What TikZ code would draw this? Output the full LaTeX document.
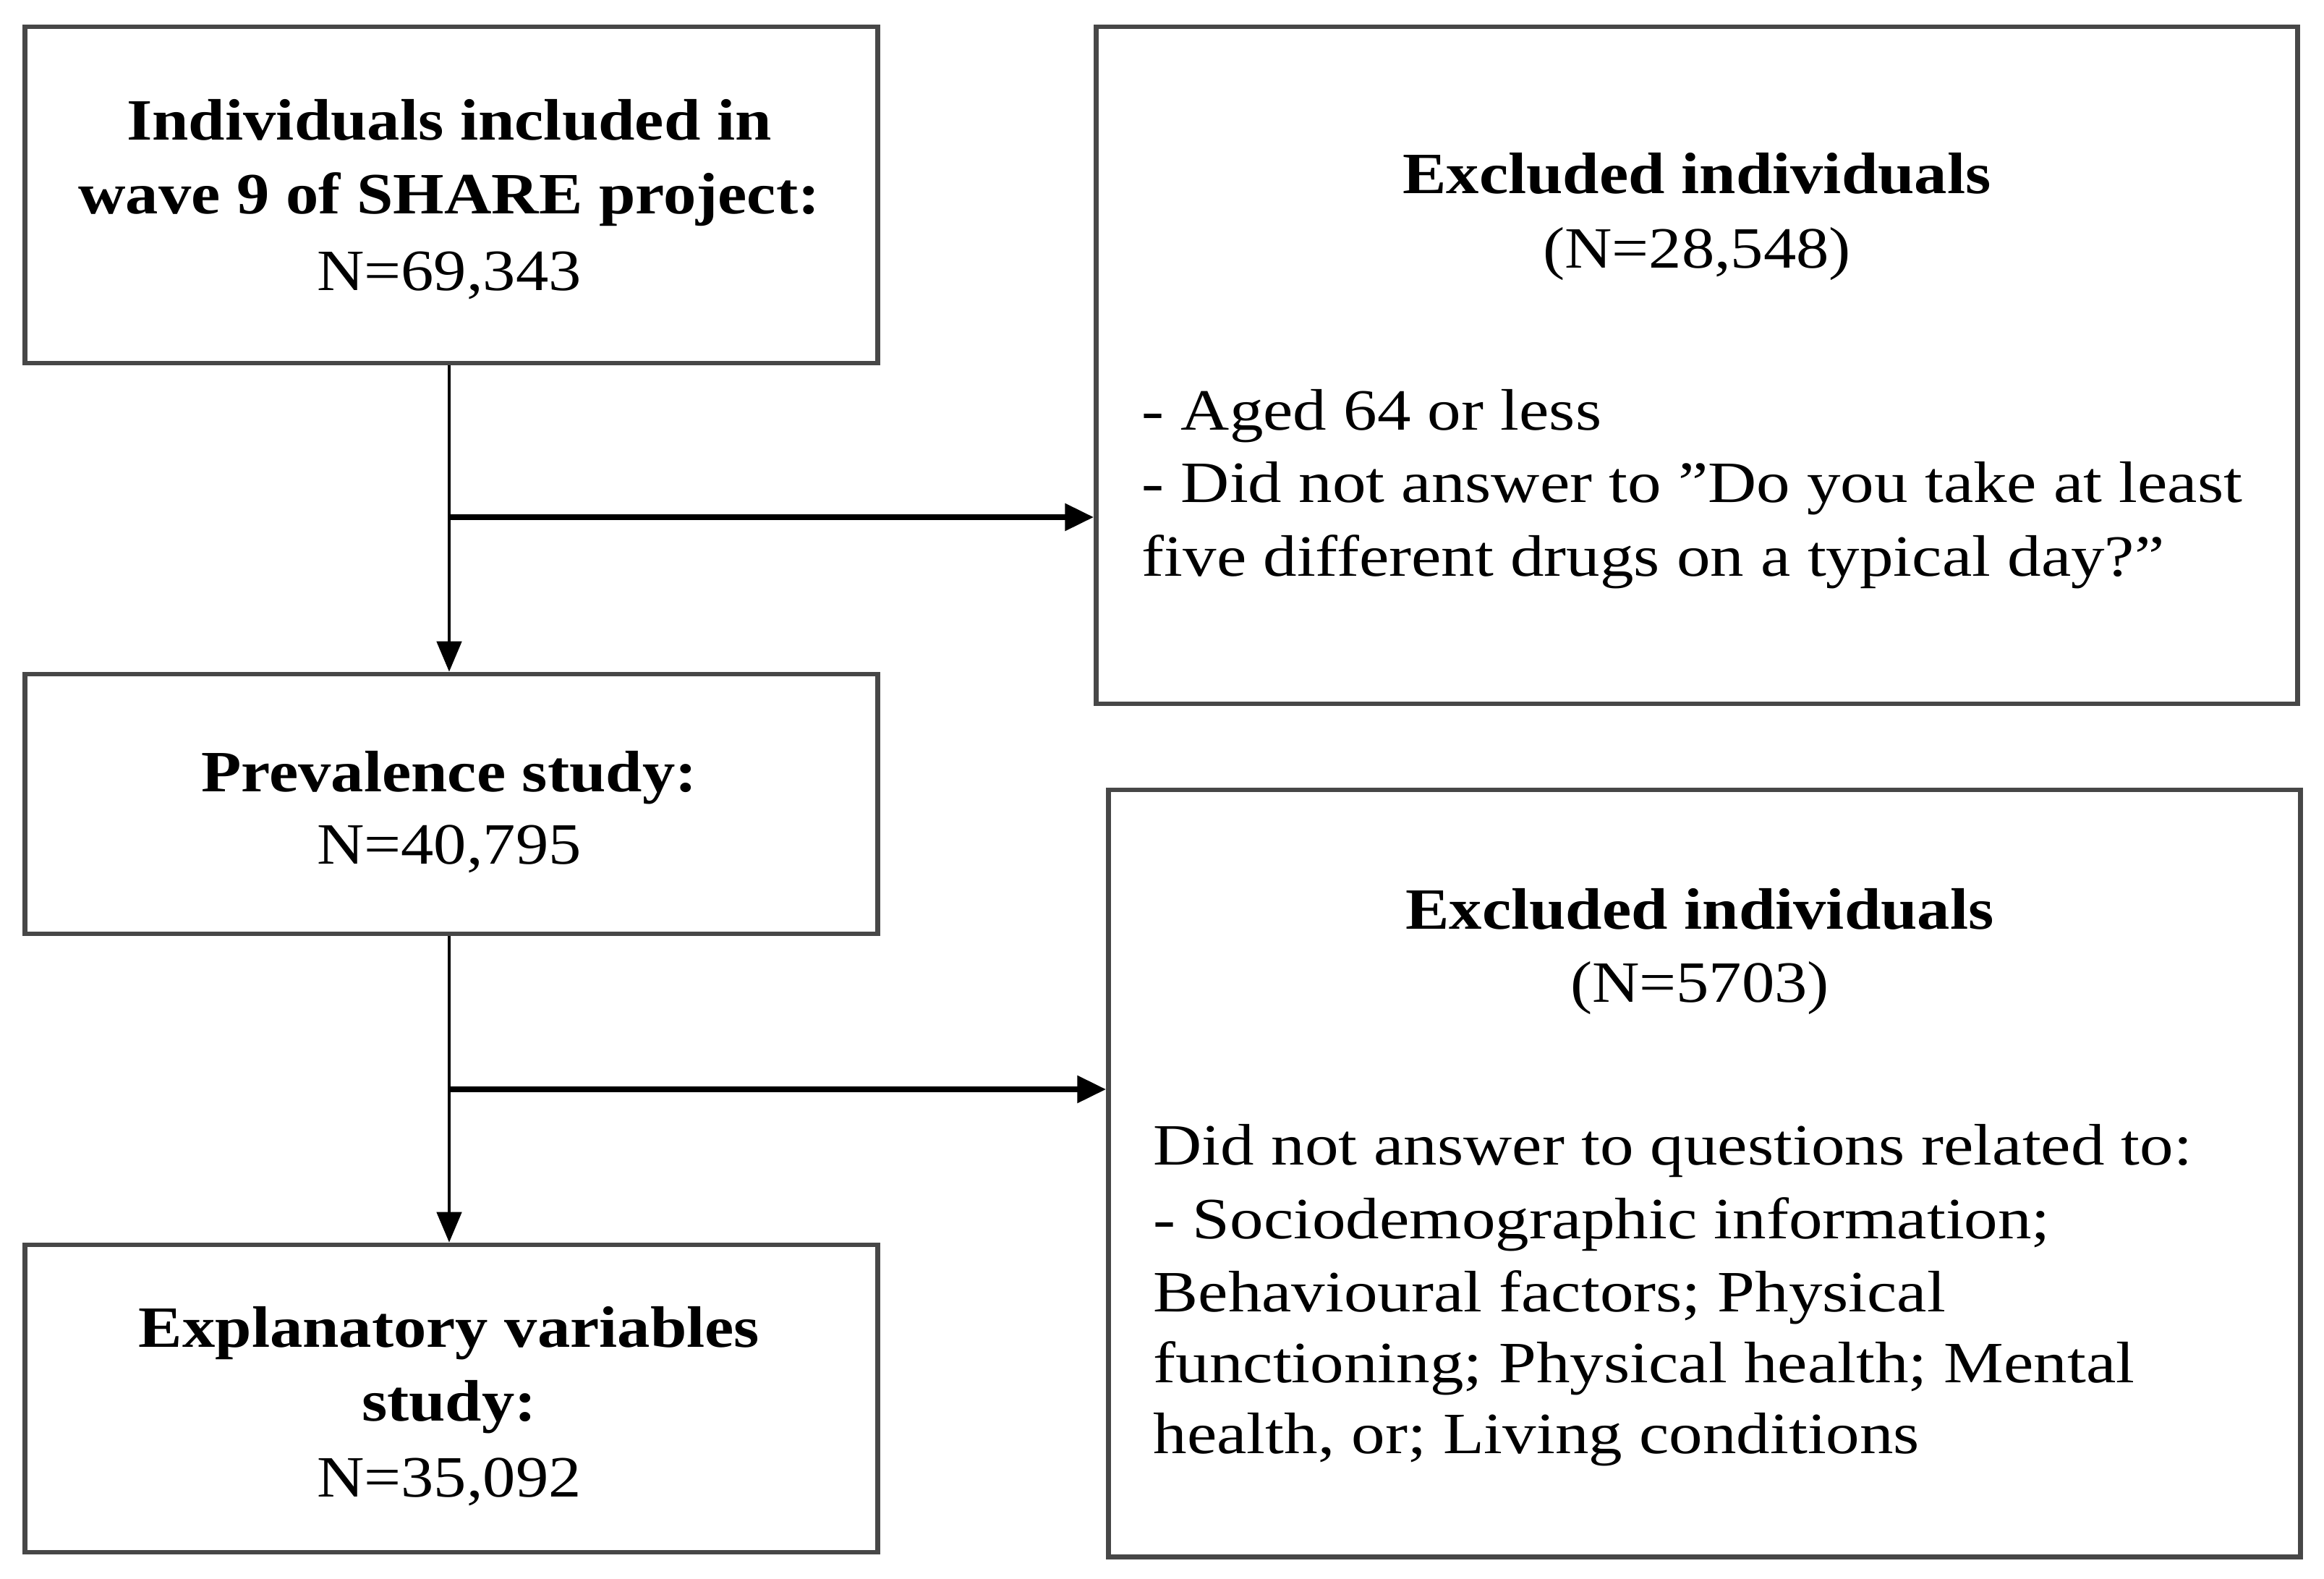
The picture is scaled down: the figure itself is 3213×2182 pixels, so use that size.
\documentclass[tikz,border=0pt]{standalone}
\usepackage{fontspec}
\setmainfont{Liberation Serif}[FakeStretch=1.12]
\newfontfamily\widefont{Liberation Serif}[FakeStretch=1.15]
\usetikzlibrary{arrows.meta}
\begin{document}
\begin{tikzpicture}[x=0.01cm,y=-0.01cm,
  box/.style={draw=black!72, line width=1.8pt, inner sep=0pt},
  txt/.style={font=\fontsize{23}{29}\selectfont, inner sep=0pt},
  hd/.style={txt, font=\fontsize{23}{29}\selectfont\bfseries, anchor=base},
  ln/.style={txt, font=\fontsize{23}{29}\widefont, anchor=base west},
  cn/.style={txt, anchor=base},
  vline/.style={line width=1.4pt, -{Triangle[length=0.42cm,width=0.34cm]}},
  hline/.style={line width=2.5pt, -{Triangle[length=0.40cm,width=0.36cm]}}]
\useasboundingbox (0,0) rectangle (3213,2182);
% boxes
\node[box, minimum width=11.78cm, minimum height=4.65cm] (b1) at (624,269.5) {};
\node[box, minimum width=16.60cm, minimum height=9.36cm] (b2) at (2346,505) {};
\node[box, minimum width=11.78cm, minimum height=3.59cm] (b3) at (624,1111.5) {};
\node[box, minimum width=16.47cm, minimum height=10.60cm] (b4) at (2356.5,1622) {};
\node[box, minimum width=11.78cm, minimum height=4.25cm] (b5) at (624,1933.5) {};
% box 1
\node[hd] (t1a) at (621,194) {Individuals included in};
\node[hd] (t1b) at (621,296) {wave 9 of SHARE project:};
\node[cn] (t1c) at (621,401) {N=69,343};
% box 2
\node[hd] (t2a) at (2346,268) {Excluded individuals};
\node[cn] (t2b) at (2346,370) {(N=28,548)};
\node[ln] (t2c) at (1578,594) {- Aged 64 or less};
\node[ln] (t2d) at (1578,694) {- Did not answer to ”Do you take at least};
\node[ln] (t2e) at (1578,796) {five different drugs on a typical day?”};
% box 3
\node[hd] (t3a) at (621,1094) {Prevalence study:};
\node[cn] (t3b) at (621,1194) {N=40,795};
% box 4
\node[hd] (t4a) at (2350,1284) {Excluded individuals};
\node[cn] (t4b) at (2350,1385) {(N=5703)};
\node[ln] (t4c) at (1594,1610) {Did not answer to questions related to:};
\node[ln] (t4d) at (1594,1712) {- Sociodemographic information;};
\node[ln] (t4e) at (1594,1813) {Behavioural factors; Physical};
\node[ln] (t4f) at (1594,1911) {functioning; Physical health; Mental};
\node[ln] (t4g) at (1594,2009) {health, or; Living conditions};
% box 5
\node[hd] (t5a) at (621,1862) {Explanatory variables};
\node[hd] (t5b) at (621,1964) {study:};
\node[cn] (t5c) at (621,2069) {N=35,092};
% connectors
\coordinate (j1) at (621,715);
\coordinate (j2) at (621,1506);
\draw[vline] (j1 |- b1.south) -- (j1 |- b3.north);
\draw[vline] (j2 |- b3.south) -- (j2 |- b5.north);
\draw[hline] (j1) -- (j1 -| b2.west);
\draw[hline] (j2) -- (j2 -| b4.west);
\end{tikzpicture}
\end{document}
